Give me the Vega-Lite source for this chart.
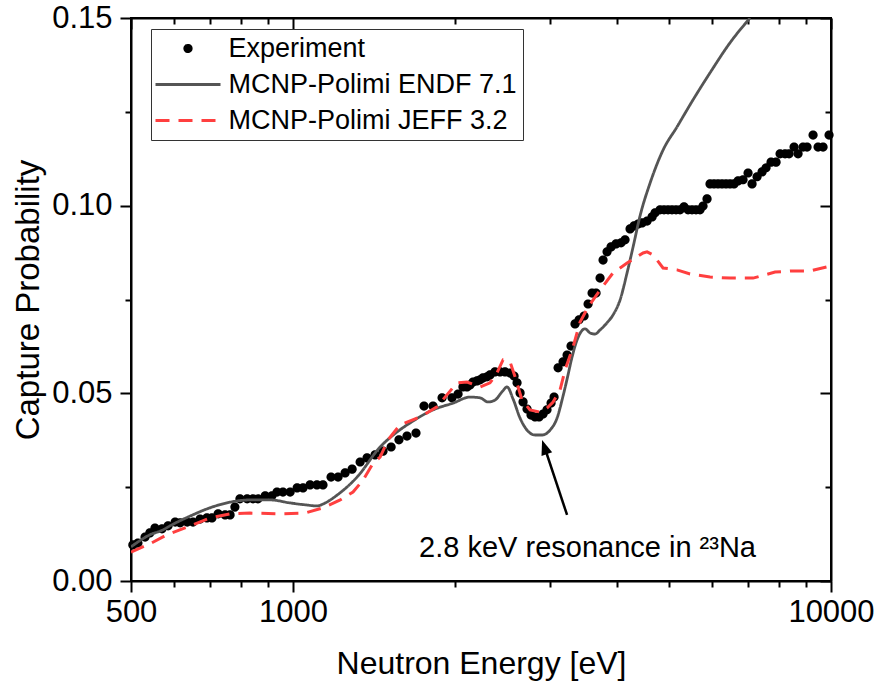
{
  "$schema": "https://vega.github.io/schema/vega-lite/v6.json",
  "width": 700,
  "height": 563,
  "autosize": {"type": "none"},
  "padding": {"left": 131, "top": 18, "right": 47, "bottom": 106},
  "background": "white",
  "config": {
    "font": "Liberation Sans",
    "view": {"stroke": "black", "strokeWidth": 2},
    "axis": {
      "grid": false,
      "domainColor": "black",
      "domainWidth": 2,
      "tickColor": "black",
      "tickWidth": 2,
      "labelColor": "black",
      "titleColor": "black",
      "labelFont": "Liberation Sans",
      "titleFont": "Liberation Sans",
      "titleFontWeight": "normal"
    },
    "legend": {
      "title": null,
      "orient": "none",
      "legendX": 20,
      "legendY": 11,
      "strokeColor": "#333333",
      "fillColor": "white",
      "padding": 6,
      "labelFontSize": 27,
      "labelFont": "Liberation Sans",
      "labelColor": "black",
      "labelLimit": 500,
      "symbolSize": 169,
      "symbolStrokeWidth": 3,
      "symbolOffset": 17.5,
      "labelOffset": 27,
      "rowPadding": 8
    }
  },
  "datasets": {
    "exp": [
      {"E":504,"P":0.0096},{"E":515,"P":0.0101},{"E":531,"P":0.0117},{"E":542,"P":0.0128},{"E":554,"P":0.0141},{"E":571,"P":0.0139},{"E":586,"P":0.0147},{"E":604,"P":0.0157},{"E":617,"P":0.0155},{"E":636,"P":0.0157},{"E":652,"P":0.0157},{"E":672,"P":0.0165},{"E":692,"P":0.0168},{"E":707,"P":0.0168},{"E":726,"P":0.0179},{"E":748,"P":0.0176},{"E":764,"P":0.0176},{"E":780,"P":0.0197},{"E":797,"P":0.0219},{"E":822,"P":0.0219},{"E":843,"P":0.0219},{"E":861,"P":0.0219},{"E":888,"P":0.0227},{"E":914,"P":0.0227},{"E":934,"P":0.0237},{"E":958,"P":0.0237},{"E":988,"P":0.0237},{"E":1018,"P":0.0248},{"E":1044,"P":0.0248},{"E":1076,"P":0.0256},{"E":1108,"P":0.0256},{"E":1137,"P":0.0256},{"E":1177,"P":0.0277},{"E":1213,"P":0.0277},{"E":1250,"P":0.0288},{"E":1288,"P":0.0298},{"E":1333,"P":0.0317},{"E":1373,"P":0.0328},{"E":1421,"P":0.0336},{"E":1470,"P":0.0346},{"E":1522,"P":0.0357},{"E":1574,"P":0.0376},{"E":1629,"P":0.0386},{"E":1693,"P":0.0394},{"E":1752,"P":0.0466},{"E":1821,"P":0.0466},{"E":1893,"P":0.0488},{"E":1975,"P":0.0488},{"E":2027,"P":0.0498},{"E":2070,"P":0.0517},{"E":2106,"P":0.0517},{"E":2133,"P":0.0522},{"E":2161,"P":0.053},{"E":2198,"P":0.0533},{"E":2227,"P":0.0536},{"E":2255,"P":0.0541},{"E":2295,"P":0.0544},{"E":2324,"P":0.0549},{"E":2374,"P":0.0557},{"E":2426,"P":0.0557},{"E":2478,"P":0.0557},{"E":2532,"P":0.0554},{"E":2576,"P":0.0546},{"E":2609,"P":0.0528},{"E":2643,"P":0.0501},{"E":2677,"P":0.0477},{"E":2723,"P":0.0458},{"E":2770,"P":0.0442},{"E":2818,"P":0.0437},{"E":2867,"P":0.0437},{"E":2916,"P":0.0445},{"E":2966,"P":0.0456},{"E":3018,"P":0.0474},{"E":3057,"P":0.049},{"E":3110,"P":0.0568},{"E":3177,"P":0.0584},{"E":3232,"P":0.0602},{"E":3287,"P":0.0626},{"E":3344,"P":0.0685},{"E":3402,"P":0.0696},{"E":3476,"P":0.0706},{"E":3536,"P":0.0738},{"E":3597,"P":0.0767},{"E":3659,"P":0.0767},{"E":3722,"P":0.0807},{"E":3770,"P":0.0855},{"E":3835,"P":0.0877},{"E":3901,"P":0.089},{"E":3986,"P":0.0898},{"E":4072,"P":0.0901},{"E":4142,"P":0.0909},{"E":4232,"P":0.0938},{"E":4305,"P":0.0946},{"E":4380,"P":0.0951},{"E":4455,"P":0.0954},{"E":4552,"P":0.0959},{"E":4650,"P":0.097},{"E":4710,"P":0.0981},{"E":4811,"P":0.0989},{"E":4894,"P":0.0989},{"E":4979,"P":0.0989},{"E":5064,"P":0.0989},{"E":5152,"P":0.0989},{"E":5241,"P":0.0989},{"E":5331,"P":0.0997},{"E":5424,"P":0.0989},{"E":5517,"P":0.0989},{"E":5612,"P":0.0989},{"E":5709,"P":0.0989},{"E":5783,"P":0.0999},{"E":5883,"P":0.1018},{"E":5959,"P":0.1058},{"E":6062,"P":0.1058},{"E":6167,"P":0.1058},{"E":6273,"P":0.1058},{"E":6381,"P":0.1058},{"E":6491,"P":0.1058},{"E":6604,"P":0.1058},{"E":6718,"P":0.1066},{"E":6863,"P":0.1069},{"E":7012,"P":0.1087},{"E":7133,"P":0.1058},{"E":7287,"P":0.1077},{"E":7445,"P":0.109},{"E":7573,"P":0.1101},{"E":7737,"P":0.1116},{"E":7904,"P":0.1116},{"E":8041,"P":0.1138},{"E":8215,"P":0.1138},{"E":8357,"P":0.1138},{"E":8538,"P":0.1156},{"E":8685,"P":0.1138},{"E":8873,"P":0.1156},{"E":9026,"P":0.1156},{"E":9261,"P":0.1188},{"E":9461,"P":0.1156},{"E":9666,"P":0.1156},{"E":9917,"P":0.1188}
    ],
    "endf": [
      {"E":500,"P":0.0091},{"E":542,"P":0.0123},{"E":573,"P":0.0136},{"E":591,"P":0.0147},{"E":644,"P":0.0173},{"E":701,"P":0.0195},{"E":764,"P":0.021},{"E":832,"P":0.0216},{"E":907,"P":0.0216},{"E":988,"P":0.0208},{"E":1053,"P":0.0203},{"E":1108,"P":0.02},{"E":1137,"P":0.0205},{"E":1208,"P":0.0229},{"E":1316,"P":0.0277},{"E":1452,"P":0.0357},{"E":1561,"P":0.0397},{"E":1650,"P":0.0421},{"E":1821,"P":0.0456},{"E":1984,"P":0.0474},{"E":2133,"P":0.049},{"E":2227,"P":0.0488},{"E":2304,"P":0.0477},{"E":2374,"P":0.0482},{"E":2447,"P":0.0504},{"E":2500,"P":0.0517},{"E":2565,"P":0.0485},{"E":2643,"P":0.0434},{"E":2723,"P":0.0402},{"E":2818,"P":0.0389},{"E":2904,"P":0.0389},{"E":3005,"P":0.0402},{"E":3096,"P":0.0434},{"E":3177,"P":0.0493},{"E":3245,"P":0.0549},{"E":3302,"P":0.0597},{"E":3373,"P":0.0642},{"E":3431,"P":0.0664},{"E":3490,"P":0.0672},{"E":3566,"P":0.0661},{"E":3643,"P":0.0658},{"E":3722,"P":0.0669},{"E":3835,"P":0.0688},{"E":3935,"P":0.0709},{"E":4055,"P":0.0749},{"E":4178,"P":0.0821},{"E":4287,"P":0.089},{"E":4417,"P":0.0973},{"E":4610,"P":0.106},{"E":4873,"P":0.1148},{"E":5174,"P":0.121},{"E":5541,"P":0.1282},{"E":5959,"P":0.1354},{"E":6491,"P":0.1434},{"E":7072,"P":0.15}
    ],
    "jeff": [
      {"E":500,"P":0.0077},{"E":542,"P":0.0099},{"E":583,"P":0.0123},{"E":644,"P":0.0147},{"E":701,"P":0.0168},{"E":764,"P":0.0179},{"E":832,"P":0.0181},{"E":946,"P":0.0179},{"E":1053,"P":0.0181},{"E":1137,"P":0.0195},{"E":1224,"P":0.0216},{"E":1293,"P":0.0237},{"E":1350,"P":0.0269},{"E":1409,"P":0.0314},{"E":1452,"P":0.033},{"E":1502,"P":0.0376},{"E":1581,"P":0.0416},{"E":1722,"P":0.0437},{"E":1852,"P":0.0464},{"E":1917,"P":0.049},{"E":2018,"P":0.0528},{"E":2106,"P":0.053},{"E":2227,"P":0.0517},{"E":2324,"P":0.0528},{"E":2385,"P":0.0549},{"E":2457,"P":0.0589},{"E":2532,"P":0.0584},{"E":2587,"P":0.0544},{"E":2665,"P":0.0482},{"E":2758,"P":0.0456},{"E":2879,"P":0.045},{"E":2966,"P":0.0461},{"E":3044,"P":0.0477},{"E":3136,"P":0.0509},{"E":3204,"P":0.0562},{"E":3316,"P":0.0624},{"E":3417,"P":0.069},{"E":3536,"P":0.073},{"E":3722,"P":0.0775},{"E":3935,"P":0.0821},{"E":4178,"P":0.0847},{"E":4474,"P":0.0874},{"E":4552,"P":0.0877},{"E":4670,"P":0.0869},{"E":4873,"P":0.0834},{"E":5174,"P":0.0829},{"E":5470,"P":0.0818},{"E":5959,"P":0.081},{"E":6491,"P":0.0807},{"E":7163,"P":0.0807},{"E":7871,"P":0.0823},{"E":8393,"P":0.0826},{"E":9142,"P":0.0826},{"E":9960,"P":0.0839}
    ],
    "arrow": [{"E":3232,"P":0.0176},{"E":2934,"P":0.0357}],
    "head": [{"E":2934,"P":0.0357}],
    "note": [{"E":3528,"P":0.0088,"label":"2.8 keV resonance in ²³Na"}]
  },
  "resolve": {"axis": {"x": "independent", "y": "independent"}},
  "layer": [
    {
      "data": {"name": "exp"},
      "mark": {"type": "point", "filled": true, "size": 367, "opacity": 1, "strokeWidth": 0},
      "encoding": {
        "x": {"field": "E", "type": "quantitative", "scale": {"type": "log", "domain": [500, 10000], "nice": false}, "axis": null},
        "y": {"field": "P", "type": "quantitative", "scale": {"domain": [0, 0.15], "nice": false, "zero": false}, "axis": null},
        "color": {
          "datum": "Experiment",
          "type": "nominal",
          "scale": {"domain": ["Experiment", "MCNP-Polimi ENDF 7.1", "MCNP-Polimi JEFF 3.2"], "range": ["#000000", "#555555", "#ff3f3f"]}
        },
        "shape": {
          "datum": "Experiment",
          "type": "nominal",
          "scale": {"domain": ["Experiment", "MCNP-Polimi ENDF 7.1", "MCNP-Polimi JEFF 3.2"], "range": ["M0.48,0A0.48,0.48,0,1,1,-0.48,0A0.48,0.48,0,1,1,0.48,0Z", "M-5,0L5,0", "M-5,0L5,0"]}
        }
      }
    },
    {
      "data": {"name": "endf"},
      "mark": {"type": "line", "interpolate": "monotone", "strokeWidth": 2.8, "clip": true},
      "encoding": {
        "x": {
          "field": "E", "type": "quantitative",
          "axis": {
            "orient": "bottom",
            "values": [500, 600, 700, 800, 900, 1000, 2000, 3000, 4000, 5000, 6000, 7000, 8000, 9000, 10000],
            "format": "d",
            "labelExpr": "(datum.value == 500 || datum.value == 1000 || datum.value == 10000) ? datum.label : ''",
            "tickSize": {"condition": {"test": "datum.value == 500 || datum.value == 1000 || datum.value == 10000", "value": 11}, "value": 6},
            "labelFontSize": 31,
            "labelPadding": 5,
            "labelOverlap": false,
            "labelFlush": false,
            "labelBound": false,
            "title": "Neutron Energy [eV]",
            "titleFontSize": 32,
            "titlePadding": 21
          }
        },
        "y": {
          "field": "P", "type": "quantitative",
          "axis": {
            "orient": "left",
            "values": [0, 0.025, 0.05, 0.075, 0.1, 0.125, 0.15],
            "format": ".2f",
            "labelExpr": "(round(datum.value * 1000) % 50 == 0) ? datum.label : ''",
            "tickSize": {"condition": {"test": "round(datum.value * 1000) % 50 == 0", "value": 11}, "value": 6},
            "labelFontSize": 31,
            "labelPadding": 8,
            "labelOverlap": false,
            "labelFlush": false,
            "labelBound": false,
            "title": "Capture Probability",
            "titleFontSize": 33,
            "titlePadding": 6
          }
        },
        "color": {"datum": "MCNP-Polimi ENDF 7.1", "type": "nominal"},
        "strokeDash": {
          "datum": "MCNP-Polimi ENDF 7.1",
          "type": "nominal",
          "scale": {"domain": ["Experiment", "MCNP-Polimi ENDF 7.1", "MCNP-Polimi JEFF 3.2"], "range": [[1, 0], [1, 0], [14, 9]]}
        }
      }
    },
    {
      "data": {"name": "jeff"},
      "mark": {"type": "line", "strokeWidth": 3, "clip": true},
      "encoding": {
        "x": {"field": "E", "type": "quantitative", "axis": null},
        "y": {"field": "P", "type": "quantitative", "axis": null},
        "color": {"datum": "MCNP-Polimi JEFF 3.2", "type": "nominal"},
        "strokeDash": {"datum": "MCNP-Polimi JEFF 3.2", "type": "nominal"}
      }
    },
    {
      "data": {"name": "arrow"},
      "mark": {"type": "line", "color": "black", "strokeWidth": 2.5},
      "encoding": {
        "x": {
          "field": "E", "type": "quantitative",
          "axis": {
            "orient": "top",
            "values": [500, 600, 700, 800, 900, 1000, 2000, 3000, 4000, 5000, 6000, 7000, 8000, 9000, 10000],
            "labels": false,
            "title": null,
            "tickSize": {"condition": {"test": "datum.value == 500 || datum.value == 1000 || datum.value == 10000", "value": -11}, "value": -6}
          }
        },
        "y": {
          "field": "P", "type": "quantitative",
          "axis": {
            "orient": "right",
            "values": [0, 0.025, 0.05, 0.075, 0.1, 0.125, 0.15],
            "labels": false,
            "title": null,
            "tickSize": {"condition": {"test": "round(datum.value * 1000) % 50 == 0", "value": -11}, "value": -6}
          }
        }
      }
    },
    {
      "data": {"name": "head"},
      "mark": {"type": "point", "shape": "M0,-1L0.75,1L-0.75,1Z", "size": 225, "angle": 341.6, "filled": true, "color": "black", "opacity": 1, "strokeWidth": 0},
      "encoding": {
        "x": {"field": "E", "type": "quantitative", "axis": null},
        "y": {"field": "P", "type": "quantitative", "axis": null}
      }
    },
    {
      "data": {"name": "note"},
      "mark": {"type": "text", "fontSize": 29, "font": "Liberation Sans", "align": "center", "baseline": "middle", "color": "black"},
      "encoding": {
        "x": {"field": "E", "type": "quantitative", "axis": null},
        "y": {"field": "P", "type": "quantitative", "axis": null},
        "text": {"field": "label"}
      }
    }
  ]
}
